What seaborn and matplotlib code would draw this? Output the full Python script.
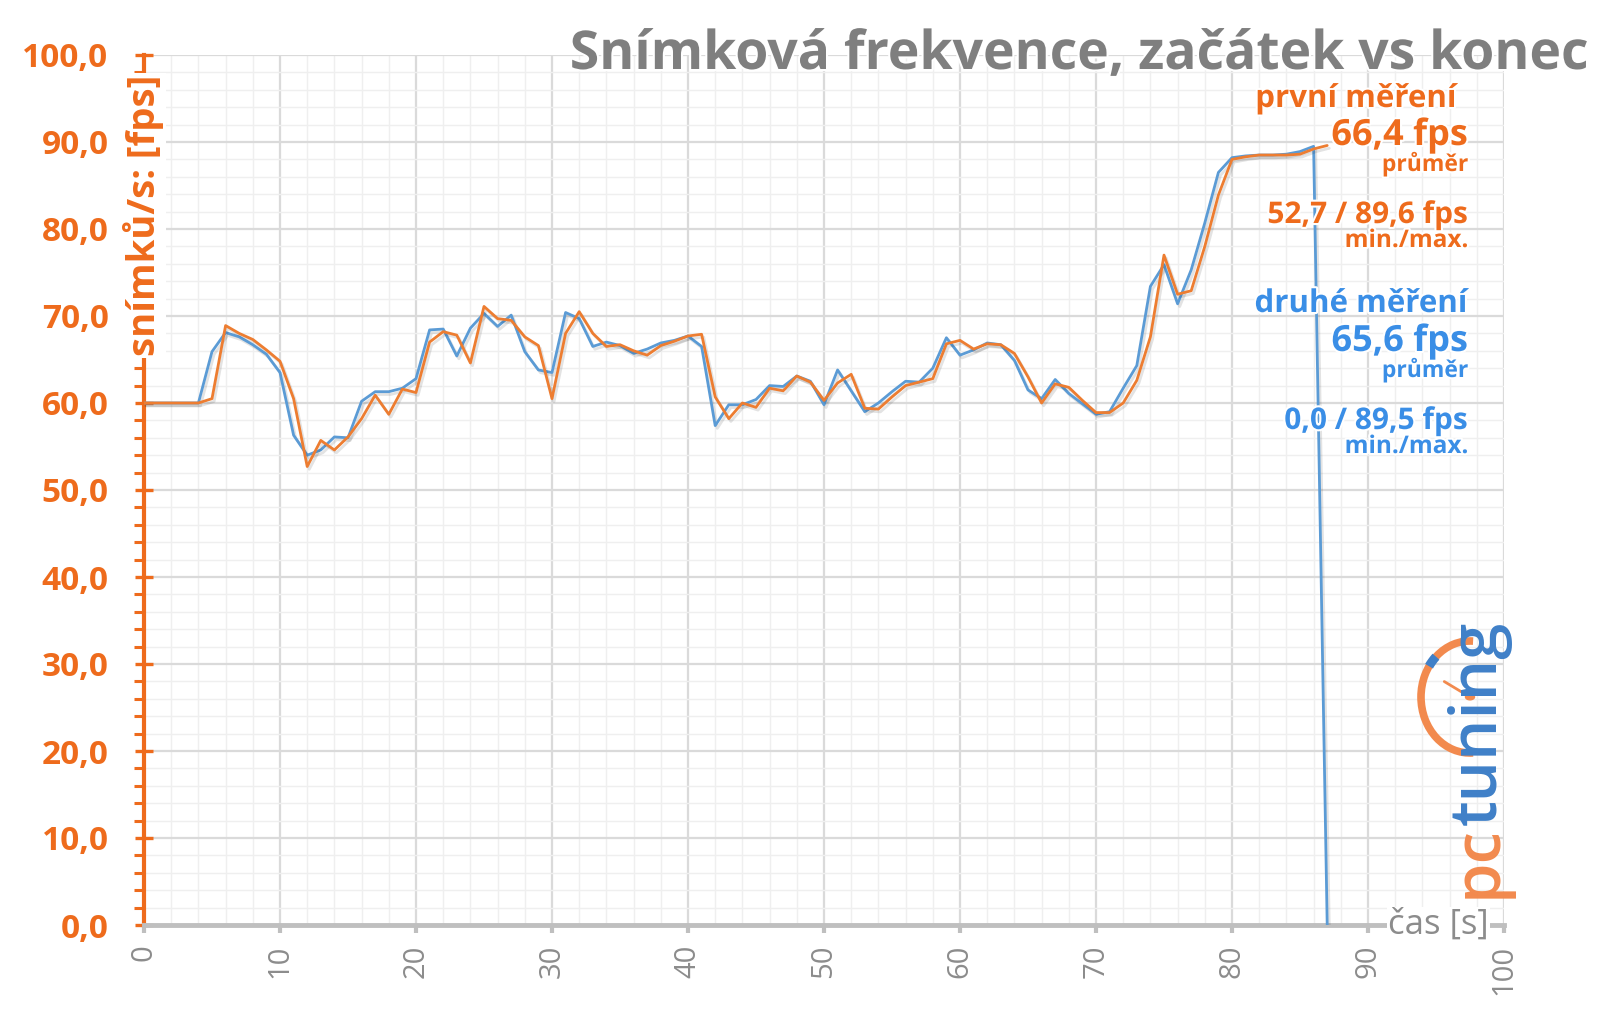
import numpy as np
import pandas as pd
import matplotlib
matplotlib.use("Agg")
import matplotlib.pyplot as plt
import matplotlib.patheffects as pe
from matplotlib.patches import Arc, Circle
from matplotlib.lines import Line2D
import seaborn as sns

# ---------------- data ----------------
time_s = list(range(0, 88))
first_fps = [60.0, 60.0, 60.0, 60.0, 60.0, 60.5, 68.9, 68.0, 67.3, 66.1,
             64.8, 60.5, 52.7, 55.7, 54.6, 56.1, 58.2, 60.9, 58.7, 61.6,
             61.2, 67.0, 68.2, 67.8, 64.6, 71.1, 69.7, 69.5, 67.6, 66.6,
             60.5, 68.0, 70.5, 68.0, 66.5, 66.7, 66.0, 65.5, 66.6, 67.1,
             67.7, 67.9, 60.7, 58.2, 60.0, 59.5, 61.7, 61.4, 63.1, 62.4,
             60.3, 62.3, 63.3, 59.4, 59.3, 60.7, 62.0, 62.4, 62.8, 66.8,
             67.2, 66.2, 66.8, 66.7, 65.7, 63.0, 60.0, 62.2, 61.8, 60.3,
             58.9, 58.9, 60.0, 62.6, 67.6, 77.0, 72.5, 72.9, 78.0, 83.9,
             88.0, 88.3, 88.5, 88.5, 88.5, 88.6, 89.2, 89.6]
second_fps = [60.0, 60.0, 60.0, 60.0, 60.0, 65.9, 68.1, 67.6, 66.7, 65.6,
              63.5, 56.3, 54.0, 54.6, 56.1, 56.0, 60.2, 61.3, 61.3, 61.7,
              62.8, 68.4, 68.5, 65.4, 68.6, 70.3, 68.8, 70.1, 65.9, 63.8,
              63.5, 70.4, 69.7, 66.5, 67.0, 66.6, 65.7, 66.2, 66.9, 67.2,
              67.7, 66.5, 57.4, 59.8, 59.8, 60.4, 62.0, 61.9, 63.1, 62.5,
              59.8, 63.8, 61.4, 59.0, 60.0, 61.3, 62.5, 62.4, 64.0, 67.5,
              65.5, 66.1, 66.9, 66.7, 64.9, 61.5, 60.5, 62.7, 61.1, 59.9,
              58.7, 59.0, 61.7, 64.3, 73.4, 75.9, 71.4, 75.3, 80.7, 86.5,
              88.2, 88.4, 88.5, 88.5, 88.6, 88.9, 89.5, 0.0]
series_names = ["první měření", "druhé měření"]

x_ticks = list(range(0, 101, 10))
x_tick_labels = [str(v) for v in x_ticks]
y_ticks = list(range(0, 101, 10))
y_tick_labels = ["0,0", "10,0", "20,0", "30,0", "40,0", "50,0",
                 "60,0", "70,0", "80,0", "90,0", "100,0"]

title_text = "Snímková frekvence, začátek vs konec"
y_label = "snímků/s: [fps]"
x_label = "čas [s]"
first_avg, first_minmax = "66,4 fps", "52,7 / 89,6 fps"
second_avg, second_minmax = "65,6 fps", "0,0 / 89,5 fps"

# ---------------- style ----------------
ORANGE_LINE = "#ED7D31"
BLUE_LINE = "#5B9BD5"
ORANGE_TXT = "#EE6B1C"
BLUE_TXT = "#3A8EE6"
GREY_TXT = "#7F7F7F"
TICK_GREY = "#8C8C8C"
AXIS_GREY = "#BFBFBF"

sns.set_theme(style="white")
plt.rcParams['font.family'] = ['Open Sans', 'DejaVu Sans']

W, H = 1600, 1009
fig = plt.figure(figsize=(W / 100, H / 100), dpi=100)
fig.patch.set_facecolor("white")
ax = fig.add_axes([144 / W, 1 - 925 / H, (1504 - 144) / W, 870 / H])
ax.set_facecolor("white")

df = pd.DataFrame({
    "čas": time_s + time_s,
    "fps": first_fps + second_fps,
    "měření": [series_names[0]] * len(time_s) + [series_names[1]] * len(time_s),
})
sns.lineplot(data=df, x="čas", y="fps", hue="měření",
             hue_order=[series_names[1], series_names[0]],
             palette={series_names[0]: ORANGE_LINE, series_names[1]: BLUE_LINE},
             linewidth=2.0, legend=False, ax=ax, estimator=None, sort=False)
for ln in ax.lines:
    ln.set_path_effects([pe.SimpleLineShadow(offset=(1.5, -2), shadow_color="k", alpha=0.12),
                         pe.Normal()])
    ln.set_zorder(3)

ax.set_xlim(0, 100)
ax.set_ylim(0, 100)

# grid
ax.set_xticks(x_ticks, labels=x_tick_labels, rotation=90)
ax.set_xticks(np.arange(0, 101, 2), minor=True)
ax.set_yticks(y_ticks, labels=y_tick_labels, fontweight="bold")
ax.set_yticks(np.arange(0, 101, 2), minor=True)
ax.set_axisbelow(True)
ax.grid(which="minor", color="#EFEFEF", linewidth=1.0)
ax.grid(which="major", color="#DADADA", linewidth=1.6)

ax.tick_params(axis="y", which="major", direction="inout", length=13, width=2.4,
               color=ORANGE_TXT, labelcolor=ORANGE_TXT, labelsize=24, pad=19, left=True)
ax.tick_params(axis="y", which="minor", direction="out", length=7, width=2.2,
               color=ORANGE_TXT, left=True)
ax.tick_params(axis="x", which="major", direction="out", length=6, width=3,
               color=AXIS_GREY, labelcolor=TICK_GREY, labelsize=21, pad=8, bottom=True)
ax.tick_params(axis="x", which="minor", length=0)

ax.set_xlabel("")
ax.set_ylabel("")
for s in ["top", "right"]:
    ax.spines[s].set_visible(False)
ax.spines["left"].set_color(ORANGE_TXT)
ax.spines["left"].set_linewidth(3)
ax.spines["bottom"].set_color(AXIS_GREY)
ax.spines["bottom"].set_linewidth(3.5)

# axis labels sitting on the axes
ax.text(0, 0.816, y_label, transform=ax.transAxes, rotation=90, ha="center", va="center",
        fontsize=27.5, fontweight="bold", color=ORANGE_TXT, zorder=6, clip_on=False,
        bbox=dict(facecolor="white", edgecolor="none", pad=1.5))
ax.text(95.2, 0, x_label, ha="center", va="center", fontsize=25, color=TICK_GREY,
        zorder=6, clip_on=False, bbox=dict(facecolor="white", edgecolor="none", pad=1.0))

# title
white_stroke = [pe.withStroke(linewidth=3, foreground="white")]
fig.text(1587 / W, 1 - 69 / H, title_text, ha="right", va="baseline", fontsize=38.5,
         fontweight="bold", color=GREY_TXT, path_effects=white_stroke)

# annotations
def note(txt, x_px, y_px, size, color):
    fig.text(x_px / W, 1 - y_px / H, txt, ha="right", va="baseline", fontsize=size,
             fontweight="bold", color=color, path_effects=white_stroke, zorder=7)

note(series_names[0], 1457, 107, 22.5, ORANGE_TXT)
note(first_avg, 1468, 145, 26, ORANGE_TXT)
note("průměr", 1468, 171, 16.5, ORANGE_TXT)
note(first_minmax, 1468, 223, 21.5, ORANGE_TXT)
note("min./max.", 1468, 247, 17.5, ORANGE_TXT)
note(series_names[1], 1468, 312, 22.5, BLUE_TXT)
note(second_avg, 1468, 351, 26, BLUE_TXT)
note("průměr", 1468, 377, 16.5, BLUE_TXT)
note(second_minmax, 1468, 429, 21.5, BLUE_TXT)
note("min./max.", 1468, 453, 17.5, BLUE_TXT)

# logo
LOGO_OR = "#F28A4E"
LOGO_BL = "#3F80C8"
t_pc = fig.text(1496 / W, 1 - 898 / H, "pc", rotation=90, rotation_mode="anchor",
                ha="left", va="baseline", fontsize=47, fontweight=600, color=LOGO_OR, zorder=7)
fig.canvas.draw()
bb = t_pc.get_window_extent(renderer=fig.canvas.get_renderer())
fig.text(1496 / W, bb.y1 / H, "tuning", rotation=90, rotation_mode="anchor",
         ha="left", va="baseline", fontsize=47, fontweight=600, color=LOGO_BL, zorder=7)

cx, cy = 1470 / W, 1 - 697 / H
rx, ry = 49, 56
fig.patches.append(Arc((cx, cy), 2 * rx / W, 2 * ry / H, theta1=88, theta2=272,
                       transform=fig.transFigure, color=LOGO_OR, lw=5.5, zorder=6))
fig.patches.append(Arc((cx, cy), 2 * rx / W, 2 * ry / H, theta1=118, theta2=130,
                       transform=fig.transFigure, color=LOGO_BL, lw=6.5, zorder=6))
ang = np.deg2rad(149)
fig.lines.append(Line2D([cx, cx + 30 * np.cos(ang) / W], [cy, cy + 30 * np.sin(ang) / H],
                        transform=fig.transFigure, color=LOGO_OR, lw=2, zorder=6))
fig.patches.append(Circle((cx, cy), 4.5 / W, transform=fig.transFigure,
                          color=LOGO_OR, zorder=6))

fig.savefig("out.png", dpi=100, facecolor="white")
